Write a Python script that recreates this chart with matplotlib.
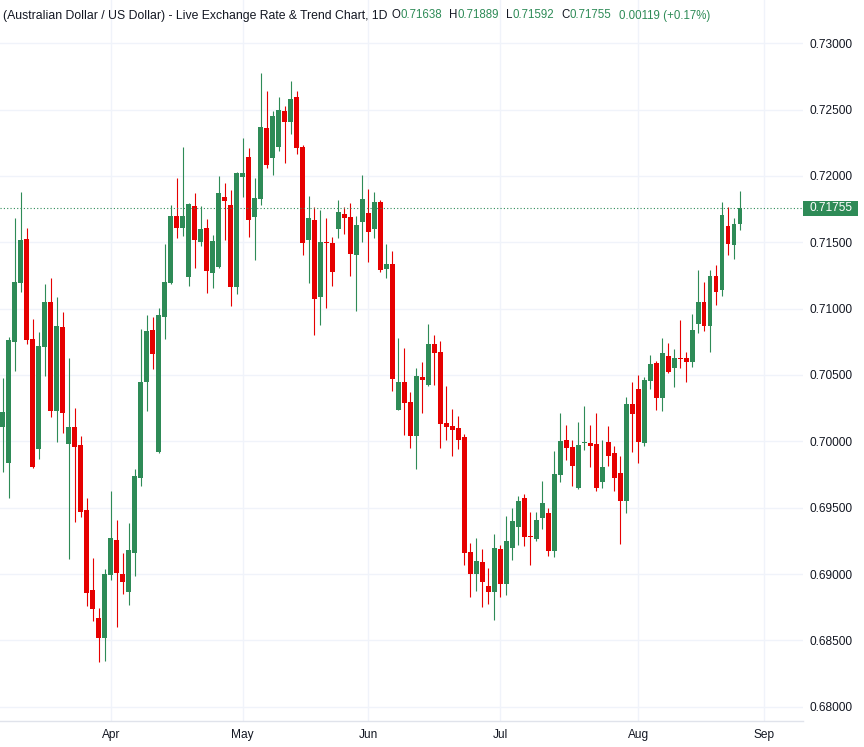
import matplotlib
matplotlib.use("Agg")
import matplotlib.pyplot as plt
import matplotlib.transforms as mtransforms
from matplotlib.patches import Rectangle
from matplotlib.ticker import FuncFormatter
import numpy as np
import pandas as pd

GREEN = "#2e8b57"
RED = "#e60000"
TEXT = "#131722"
GRID = "#f0f3fa"

plt.rcParams["font.family"] = ["Liberation Sans", "DejaVu Sans"]

# daily AUD/USD candles
first_day = "2026-03-06"

opens = [
    0.70110, 0.69839, 0.70751, 0.71191, 0.71525, 0.70771, 0.69939, 0.70713, 0.71050, 0.70231,
    0.70862, 0.69982, 0.70108, 0.69972, 0.69482, 0.68879, 0.68668, 0.68520, 0.68995, 0.69256,
    0.69000, 0.68866, 0.69155, 0.69720, 0.70444, 0.70841, 0.69918, 0.70934, 0.71190, 0.71701,
    0.71606, 0.71238, 0.71770, 0.71500, 0.71611, 0.71267, 0.71312, 0.71844, 0.71778, 0.71161,
    0.71992, 0.72140, 0.71690, 0.71824, 0.72364, 0.72133, 0.72216, 0.72492, 0.72405, 0.72598,
    0.72221, 0.71515, 0.71671, 0.71085, 0.71505, 0.71497, 0.71598, 0.71716, 0.71693, 0.71402,
    0.71651, 0.71724, 0.71598, 0.71807, 0.71296, 0.71337, 0.70239, 0.70447, 0.70296, 0.70043,
    0.70485, 0.70427, 0.70734, 0.70673, 0.70138, 0.70116, 0.70103, 0.70033, 0.69166, 0.69002,
    0.69090, 0.68910, 0.68867, 0.69188, 0.68927, 0.69198, 0.69357, 0.69573, 0.69289, 0.69266,
    0.69425, 0.69460, 0.69176, 0.69749, 0.70010, 0.69957, 0.69651, 0.69990, 0.69987, 0.69980,
    0.69696, 0.69995, 0.69912, 0.69761, 0.69553, 0.70281, 0.70394, 0.69990, 0.70457, 0.70593,
    0.70325, 0.70645, 0.70550, 0.70630, 0.70630, 0.70595, 0.70881, 0.71051, 0.70873, 0.71247,
    0.71137, 0.71623, 0.71482, 0.71638,
]
highs = [
    0.70475, 0.70789, 0.71681, 0.71879, 0.71606, 0.70922, 0.70824, 0.71186, 0.71231, 0.71088,
    0.70975, 0.70628, 0.70251, 0.70040, 0.69573, 0.69123, 0.68746, 0.69040, 0.69625, 0.69407,
    0.69160, 0.69387, 0.69794, 0.70849, 0.70955, 0.70939, 0.71008, 0.71484, 0.71778, 0.71981,
    0.72222, 0.71799, 0.71868, 0.71770, 0.71672, 0.71558, 0.72003, 0.71950, 0.71897, 0.72032,
    0.72283, 0.72214, 0.71981, 0.72779, 0.72643, 0.72492, 0.72598, 0.72530, 0.72719, 0.72643,
    0.72236, 0.71847, 0.71769, 0.71744, 0.71686, 0.71543, 0.71822, 0.71769, 0.71799, 0.71701,
    0.72010, 0.71905, 0.71882, 0.71822, 0.71490, 0.71435, 0.70779, 0.70703, 0.70372, 0.70553,
    0.70598, 0.70884, 0.70801, 0.70756, 0.70417, 0.70244, 0.70191, 0.70055, 0.69234, 0.69271,
    0.69188, 0.69045, 0.69301, 0.69219, 0.69437, 0.69498, 0.69588, 0.69603, 0.69467, 0.69467,
    0.69701, 0.69497, 0.69927, 0.70214, 0.70123, 0.70010, 0.70146, 0.70266, 0.70123, 0.70214,
    0.70010, 0.70116, 0.69965, 0.69889, 0.70334, 0.70447, 0.70500, 0.70485, 0.70653, 0.70608,
    0.70781, 0.70743, 0.70698, 0.70916, 0.70675, 0.70961, 0.71292, 0.71202, 0.71292, 0.71330,
    0.71803, 0.71766, 0.71683, 0.71889,
]
lows = [
    0.69771, 0.69570, 0.70532, 0.71128, 0.70731, 0.69800, 0.69864, 0.70495, 0.70186, 0.69997,
    0.70060, 0.69110, 0.69389, 0.69432, 0.68761, 0.68648, 0.68339, 0.68346, 0.68954, 0.68602,
    0.68851, 0.68766, 0.68987, 0.69661, 0.70225, 0.70542, 0.69910, 0.70775, 0.71185, 0.71532,
    0.71545, 0.71169, 0.71304, 0.71471, 0.71116, 0.71153, 0.71305, 0.71516, 0.71019, 0.71108,
    0.71841, 0.71540, 0.71365, 0.71779, 0.72058, 0.72005, 0.72186, 0.72095, 0.72314, 0.72163,
    0.71402, 0.71191, 0.70799, 0.70874, 0.71002, 0.71168, 0.71530, 0.71560, 0.71244, 0.70980,
    0.71500, 0.71349, 0.71530, 0.71274, 0.71229, 0.70379, 0.70235, 0.70048, 0.69952, 0.69794,
    0.70216, 0.70420, 0.70427, 0.69952, 0.70013, 0.69892, 0.69945, 0.69070, 0.68829, 0.68874,
    0.68754, 0.68776, 0.68656, 0.68829, 0.68844, 0.69108, 0.69221, 0.69214, 0.69070, 0.69251,
    0.69342, 0.69138, 0.69131, 0.69696, 0.69862, 0.69666, 0.69643, 0.69937, 0.69809, 0.69628,
    0.69651, 0.69817, 0.69628, 0.69229, 0.69462, 0.69922, 0.69839, 0.69967, 0.70397, 0.70234,
    0.70227, 0.70515, 0.70407, 0.70550, 0.70445, 0.70558, 0.70813, 0.70828, 0.70670, 0.71031,
    0.71092, 0.71407, 0.71377, 0.71592,
]
closes = [
    0.70223, 0.70764, 0.71203, 0.71518, 0.70764, 0.69804, 0.70718, 0.71050, 0.70231, 0.70869,
    0.70216, 0.70108, 0.69960, 0.69470, 0.68859, 0.68738, 0.68520, 0.69000, 0.69271, 0.69010,
    0.68942, 0.69181, 0.69738, 0.70450, 0.70833, 0.70656, 0.70955, 0.71204, 0.71701, 0.71606,
    0.71701, 0.71786, 0.71516, 0.71603, 0.71283, 0.71513, 0.71868, 0.71810, 0.71161, 0.72019,
    0.72019, 0.71667, 0.71831, 0.72372, 0.72085, 0.72455, 0.72500, 0.72405, 0.72583, 0.72209,
    0.71492, 0.71686, 0.71070, 0.71505, 0.71497, 0.71274, 0.71731, 0.71681, 0.71410, 0.71633,
    0.71829, 0.71575, 0.71807, 0.71289, 0.71339, 0.70470, 0.70447, 0.70291, 0.70043, 0.70492,
    0.70465, 0.70734, 0.70668, 0.70133, 0.70110, 0.70088, 0.70013, 0.69161, 0.69002, 0.69098,
    0.68942, 0.68867, 0.69196, 0.68927, 0.69249, 0.69400, 0.69550, 0.69281, 0.69281, 0.69407,
    0.69535, 0.69176, 0.69754, 0.70003, 0.69952, 0.69817, 0.69972, 0.69997, 0.69967, 0.69651,
    0.69807, 0.69892, 0.69726, 0.69553, 0.70281, 0.70209, 0.69997, 0.70462, 0.70585, 0.70325,
    0.70668, 0.70520, 0.70630, 0.70623, 0.70595, 0.70841, 0.71051, 0.70873, 0.71247, 0.71122,
    0.71706, 0.71490, 0.71636, 0.71755,
]

price_ticks = [0.680, 0.685, 0.690, 0.695, 0.700, 0.705, 0.710, 0.715, 0.720, 0.725, 0.730]
title = "(Australian Dollar / US Dollar) - Live Exchange Rate & Trend Chart, 1D"

o = np.array(opens)
h = np.array(highs)
l = np.array(lows)
c = np.array(closes)
x = np.arange(len(o))

# trading days, extended a bit past the data so the Sep tick exists
days = pd.bdate_range(first_day, periods=len(o) + 10)
new_month = np.r_[False, days.month[1:] != days.month[:-1]]
month_idx = np.where(new_month)[0]
month_lbl = [days[i].strftime("%b") for i in month_idx]

fig = plt.figure(figsize=(8.64, 7.47), dpi=100, facecolor="white")
ax = fig.add_axes([0, 26 / 747, 803 / 864, 721 / 747])

up = c >= o
cols = np.where(up, GREEN, RED)
ax.vlines(x, l, h, colors=cols, linewidth=0.8, zorder=2)
body_lo = np.minimum(o, c)
body_h = np.maximum(np.abs(c - o), 0.00007)
ax.bar(x, body_h, bottom=body_lo, width=0.8, color=cols, linewidth=0, zorder=3)

ax.set_xlim(-0.47, 133.5)
ax.set_ylim(0.678923, 0.733262)

ax.set_yticks(price_ticks)
ax.yaxis.set_major_formatter(FuncFormatter(lambda v, p: f"{v:.5f}"))
ax.yaxis.tick_right()
ax.tick_params(axis="y", length=0, pad=5, labelsize=8.6, labelcolor=TEXT)
ax.set_xticks(month_idx)
ax.set_xticklabels(month_lbl)
ax.tick_params(axis="x", length=0, pad=6, labelsize=8.6, labelcolor=TEXT)
ax.grid(True, color=GRID, linewidth=1.0, zorder=0)
ax.set_axisbelow(True)

for side in ["top", "right", "left"]:
    ax.spines[side].set_visible(False)
ax.spines["bottom"].set_color("#e0e3eb")
ax.spines["bottom"].set_linewidth(1.0)

# last price line and label
last = c[-1]
ax.axhline(last, color=GREEN, linewidth=0.8, linestyle=(0, (1, 2)), zorder=4)
blend = mtransforms.blended_transform_factory(ax.transAxes, ax.transData)
box_h = 15.6 / 13274
ax.add_patch(Rectangle((1.0, last - box_h / 2), 55 / 803, box_h, transform=blend,
                       facecolor=GREEN, edgecolor="none", clip_on=False, zorder=5))
ax.annotate(f"{last:.5f}", xy=(1.0, last), xycoords=blend, xytext=(5, 0),
            textcoords="offset points", ha="left", va="center", color="white",
            fontsize=8.6, annotation_clip=False, zorder=6)

# header line: title, then O H L C and change, each piece chained to the previous one
prev = fig.text(3 / 864, 1 - 15.5 / 747, title, fontsize=8.8, color=TEXT,
                va="center", ha="left")
chg = c[-1] - c[-2]
pieces = [
    ("O", TEXT, 3), (f"{o[-1]:.5f}", GREEN, 0),
    ("H", TEXT, 5), (f"{h[-1]:.5f}", GREEN, 0),
    ("L", TEXT, 5), (f"{l[-1]:.5f}", GREEN, 0),
    ("C", TEXT, 5), (f"{c[-1]:.5f}", GREEN, 0),
    (f"{chg:.5f} ({chg / c[-2] * 100:+.2f}%)", GREEN, 5.5),
]
for txt, col, gap in pieces:
    prev = ax.annotate(txt, xy=(1, 0), xycoords=prev, xytext=(gap, 0),
                       textcoords="offset points", ha="left", va="bottom",
                       fontsize=8.3, color=col, annotation_clip=False)

fig.savefig("out.png", dpi=100, facecolor="white")
